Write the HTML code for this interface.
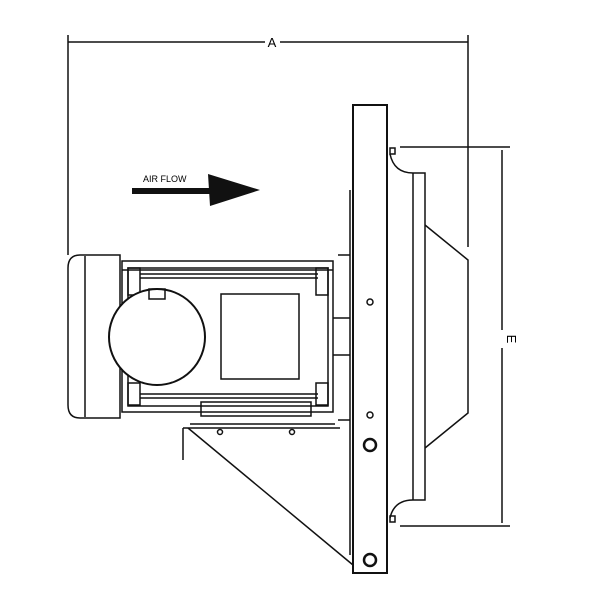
<!DOCTYPE html>
<html><head><style>body{margin:0;background:#fff}svg{display:block}</style></head><body>
<svg width="600" height="600" viewBox="0 0 600 600" xmlns="http://www.w3.org/2000/svg" font-family="Liberation Sans, sans-serif">
<g fill="none" stroke="#111" stroke-width="1.5">
<!-- dimension A -->
<line x1="68" y1="35" x2="68" y2="255"/>
<line x1="468" y1="35" x2="468" y2="247"/>
<line x1="68" y1="42" x2="265" y2="42"/><line x1="280" y1="42" x2="468" y2="42"/>
<!-- plate -->
<rect x="353" y="105" width="34" height="468" stroke-width="2"/>
<line x1="350" y1="190" x2="350" y2="555"/>
<!-- shroud -->
<path d="M390 154 Q394 173 413 173 L425 173 L425 500 L413 500 Q394 500 390 518"/>
<line x1="413" y1="173" x2="413" y2="500"/>
<path d="M425 225 L468 260 L468 413 L425 448"/>
<rect x="390" y="148" width="5" height="6"/><rect x="390" y="516" width="5" height="6"/>
<!-- dimension E -->
<line x1="400" y1="147" x2="510" y2="147"/>
<line x1="400" y1="526" x2="510" y2="526"/>
<line x1="502" y1="150" x2="502" y2="330"/><line x1="502" y1="348" x2="502" y2="523"/>
<!-- bolts -->
<circle cx="370" cy="302" r="3"/><circle cx="370" cy="415" r="3"/>
<circle cx="370" cy="445" r="6" stroke-width="2.5"/><circle cx="370" cy="560" r="6" stroke-width="2.5"/>
<!-- motor -->
<path d="M80 255 L120 255 L120 418 L80 418 Q68 418 68 405 L68 268 Q68 255 80 255 Z"/>
<line x1="85" y1="256" x2="85" y2="417"/>
<rect x="122" y="261" width="211" height="151"/>
<line x1="122" y1="270" x2="333" y2="270"/>
<rect x="128" y="268" width="200" height="138"/>
<line x1="140" y1="274" x2="318" y2="274"/><line x1="140" y1="278" x2="318" y2="278"/>
<line x1="140" y1="394" x2="318" y2="394"/><line x1="140" y1="398" x2="318" y2="398"/>
<rect x="128" y="268" width="12" height="27"/><rect x="316" y="268" width="12" height="27"/>
<rect x="128" y="383" width="12" height="22"/><rect x="316" y="383" width="12" height="22"/>
<circle cx="157" cy="337" r="48" fill="#fff" stroke-width="2"/>
<rect x="149" y="289" width="16" height="10"/>
<rect x="221" y="294" width="78" height="85"/>
<line x1="333" y1="318" x2="350" y2="318"/><line x1="333" y1="355" x2="350" y2="355"/>
<rect x="201" y="402" width="110" height="14"/>
<path d="M183 428 L183 460 M183 428 L340 428 M190 424 L335 424"/>
<circle cx="220" cy="432" r="2.5"/><circle cx="292" cy="432" r="2.5"/>
<line x1="188" y1="428" x2="353" y2="565"/>
<path d="M338 255 L350 255 M338 420 L350 420"/>
</g>
<!-- air flow -->
<rect x="132" y="188" width="80" height="6" fill="#111"/>
<polygon points="208,174 260,190 210,206" fill="#111"/>
<text x="143" y="182" font-size="9">AIR FLOW</text>
<text x="272" y="47" font-size="13" text-anchor="middle">A</text>
<text x="0" y="0" font-size="13" text-anchor="middle" transform="translate(507,339) rotate(90)">E</text>
</svg>
</body></html>
